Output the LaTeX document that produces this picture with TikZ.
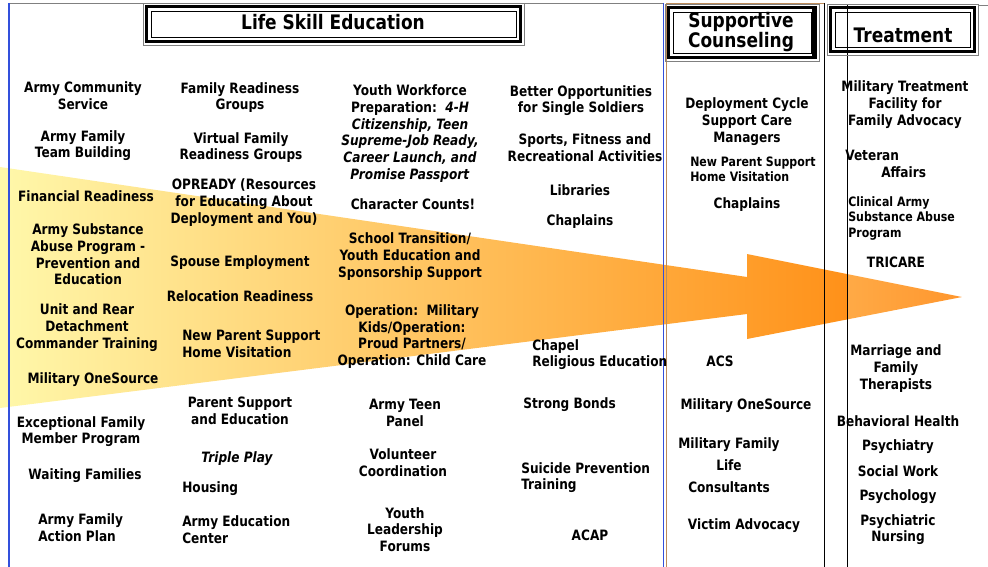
\documentclass[tikz,border=0pt]{standalone}
\usepackage{fontspec}
\setmainfont{DejaVu Sans}[FakeStretch=0.85]
\definecolor{paleyellow}{RGB}{255,248,170}
\definecolor{deeporange}{RGB}{255,145,25}
\definecolor{lightorange}{RGB}{255,170,70}
\definecolor{tiporange}{RGB}{255,150,45}
\definecolor{framegray}{RGB}{128,128,128}
\definecolor{lineblue}{RGB}{50,80,220}
\definecolor{linetan}{RGB}{190,140,90}
\def\titleframe(#1,#2)(#3,#4){%
  \draw[framegray, line width=0.4pt] (#1,#2) rectangle (#3,#4);
  \draw[line width=2.8pt] ({#1+3.5},{#2+3.5}) rectangle ({#3-3.5},{#4-3.5});
  \draw[line width=0.7pt] ({#1+8},{#2+8}) rectangle ({#3-8},{#4-8});}
\tikzset{
  entry/.style={font=\bfseries\fontsize{10.7}{12.5}\selectfont, align=center, inner sep=0pt, yshift=-1.2pt},
  lentry/.style={entry, align=left, anchor=west},
  smallentry/.style={font=\bfseries\fontsize{9.7}{11.4}\selectfont, align=left, inner sep=0pt, anchor=west, yshift=-1pt},
  wideentry/.style={entry, font=\bfseries\fontsize{10.7}{16.5}\selectfont, yshift=0.8pt},
  heading/.style={font=\bfseries\fontsize{15}{15}\selectfont, align=center, inner sep=0pt}
}

\begin{document}
\begin{tikzpicture}[x=0.75pt, y=-0.75pt]
			\useasboundingbox (0,0) rectangle (988,567);
			
			% arrow
			\begin{scope}
				\clip (0,167) -- (747,277) -- (747,254) -- (962,297) -- (747,339) -- (747,314) -- (0,408) -- cycle;
				\shade[left color=paleyellow, right color=deeporange] (0,160) rectangle (847,415);
				\shade[left color=lightorange, right color=tiporange] (847,160) rectangle (962,415);
			\end{scope}
			
			% rules
			\draw[framegray, line width=0.5pt] (9,3) -- (663,3);
			\draw[lineblue, line width=0.8pt] (9,3) -- (9,567);
			\draw[lineblue, line width=0.6pt] (663,3) -- (663,567);
			\draw[linetan, line width=0.6pt] (666,567) -- (666,3) -- (824,3);
			\draw[line width=0.6pt] (824,3) -- (824,567);
			\draw[line width=0.6pt] (847,5) -- (847,567);
			\draw[framegray, line width=0.5pt] (978,5) -- (988,5);
			
			% headings
			\titleframe(143,3)(524,45)
			\node[heading] (lse) at (333,22) {Life Skill Education};
			\titleframe(665,4)(819,61)
			\draw[line width=1.5pt] (813,8) -- (813,57) -- (669,57);
			\node[heading] (supcoun) at (741,32) {Supportive\\Counseling};
			\titleframe(827,4)(978,55)
			\node[heading] (treat) at (903,35) {Treatment};
			
			% life skill education
			\node[entry] (acs) at (83,94) {Army Community\\Service};
			\node[entry] (aftb) at (83,144) {Army Family\\Team Building};
			\node[entry] (finread) at (86,195) {Financial Readiness};
			\node[entry] (asap) at (88,253) {Army Substance\\Abuse Program -\\Prevention and\\Education};
			\node[entry] (unitrear) at (87,326) {Unit and Rear\\Detachment\\Commander Training};
			\node[entry] (mos) at (93,378) {Military OneSource};
			\node[entry] (efmp) at (81,430) {Exceptional Family\\Member Program};
			\node[entry] (waitfam) at (85,474) {Waiting Families};
			\node[lentry] (afap) at (38,526) {Army Family\\Action Plan};
			
			\node[entry] (frg) at (240,96) {Family Readiness\\Groups};
			\node[entry] (vfrg) at (241,146) {Virtual Family\\Readiness Groups};
			\node[entry] (opready) at (244,201) {OPREADY (Resources\\for Educating About\\Deployment and You)};
			\node[entry] (spouse) at (240,261) {Spouse Employment};
			\node[entry] (reloc) at (240,295) {Relocation Readiness};
			\node[lentry] (nps) at (182,342) {New Parent Support\\Home Visitation};
			\node[entry] (parsup) at (240,409) {Parent Support\\and Education};
			\node[entry] (triple) at (237,457) {\itshape Triple Play};
			\node[lentry] (housing) at (182,487) {Housing};
			\node[lentry] (armyedu) at (182,528) {Army Education\\Center};
			
			\node[entry] (ywp) at (410,132) {Youth Workforce\\Preparation:\ \ \textit{4-H}\\\textit{Citizenship, Teen}\\\textit{Supreme-Job Ready,}\\\textit{Career Launch, and}\\\textit{Promise Passport}};
			\node[entry] (charcount) at (413,203) {Character Counts!};
			\node[entry] (schooltr) at (410,255) {School Transition/\\Youth Education and\\Sponsorship Support};
			\node[entry] (opmk) at (412,335) {Operation:\ \ Military\\Kids/Operation:\\Proud Partners/\\Operation: Child Care};
			\node[entry] (teenpanel) at (405,411) {Army Teen\\Panel};
			\node[entry] (volunteer) at (403,461) {Volunteer\\Coordination};
			\node[entry] (youthlead) at (405,528) {Youth\\Leadership\\Forums};
			
			\node[entry] (bosss) at (581,99) {Better Opportunities\\for Single Soldiers};
			\node[entry] (sports) at (585,146) {Sports, Fitness and\\Recreational Activities};
			\node[entry] (libraries) at (580,189) {Libraries};
			\node[entry] (chaplains) at (580,220) {Chaplains};
			\node[lentry] (chapel) at (532,353) {Chapel\\Religious Education};
			\node[lentry] (strongbonds) at (523,403) {Strong Bonds};
			\node[lentry] (suicide) at (521,476) {Suicide Prevention\\Training};
			\node[entry] (acap) at (590,534) {ACAP};
			
			% supportive counseling
			\node[entry] (dcscm) at (747,120) {Deployment Cycle\\Support Care\\Managers};
			\node[smallentry] (npshv) at (690,168) {New Parent Support\\Home Visitation};
			\node[entry] (chaplainsc) at (747,203) {Chaplains};
			\node[entry] (acsc) at (720,360) {ACS};
			\node[entry] (mosc) at (746,404) {Military OneSource};
			\node[wideentry] (mflc) at (729,465) {Military Family\\Life\\Consultants};
			\node[entry] (victim) at (744,524) {Victim Advocacy};
			
			% treatment
			\node[entry] (mtf) at (905,103) {Military Treatment\\Facility for\\Family Advocacy};
			\node[lentry] (veteran) at (845,162) {Veteran\\\hspace*{27pt}Affairs};
			\node[smallentry] (clinical) at (848,217) {Clinical Army\\Substance Abuse\\Program};
			\node[entry] (tricare) at (896,261) {TRICARE};
			\node[entry] (mft) at (896,367) {Marriage and\\Family\\Therapists};
			\node[entry] (behav) at (898,420) {Behavioral Health};
			\node[entry] (psychiatry) at (898,445) {Psychiatry};
			\node[entry] (socialwork) at (898,470) {Social Work};
			\node[entry] (psychology) at (898,495) {Psychology};
			\node[entry] (psynursing) at (898,528) {Psychiatric\\Nursing};
			
\end{tikzpicture}
\end{document}
